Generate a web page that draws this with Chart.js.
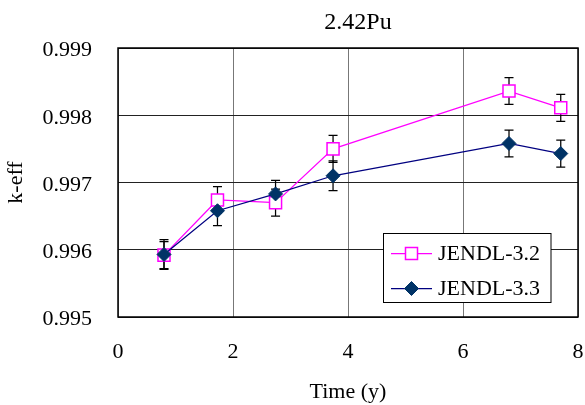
<!DOCTYPE html>
<html>
<head>
<meta charset="utf-8">
<script src="https://cdn.jsdelivr.net/npm/chart.js@4.4.1/dist/chart.umd.min.js"></script>
<style>
  html, body { margin: 0; padding: 0; background: #fff; }
  #wrap { width: 585px; height: 405px; }
</style>
</head>
<body>
<div id="wrap"><canvas id="c" width="585" height="405"></canvas></div>
<script>
// ---- data ----
const chartTitle = "2.42Pu";
const xTitle = "Time (y)";
const yTitle = "k-eff";
const seriesNames = ["JENDL-3.2", "JENDL-3.3"];
const times = [0.8, 1.73, 2.74, 3.74, 6.8, 7.7];
const jendl32 = [0.99592, 0.99674, 0.99670, 0.99750, 0.99836, 0.99811];
const jendl33 = [0.99593, 0.99658, 0.99683, 0.99710, 0.99758, 0.99743];
const err32 = [0.0002, 0.0002, 0.0002, 0.0002, 0.0002, 0.0002];
const err33 = [0.00022, 0.00022, 0.0002, 0.00022, 0.0002, 0.0002];
const xTicks = [0, 2, 4, 6, 8];
const yTicks = [0.995, 0.996, 0.997, 0.998, 0.999];

const FONT = "'Liberation Serif', 'Times New Roman', serif";

const errorBars = {
  id: 'errorBars',
  beforeDatasetsDraw(chart) {
    const ctx = chart.ctx;
    const ys = chart.scales.y;
    ctx.save();
    ctx.strokeStyle = '#000';
    ctx.lineWidth = 1.25;
    chart.data.datasets.forEach((ds, i) => {
      const meta = chart.getDatasetMeta(i);
      meta.data.forEach((pt, j) => {
        const v = ds.data[j].y, e = ds.errors[j];
        const yt = ys.getPixelForValue(v + e), yb = ys.getPixelForValue(v - e);
        const x = pt.x;
        ctx.beginPath();
        ctx.moveTo(x, yt); ctx.lineTo(x, yb);
        ctx.moveTo(x - 4.5, yt); ctx.lineTo(x + 4.5, yt);
        ctx.moveTo(x - 4.5, yb); ctx.lineTo(x + 4.5, yb);
        ctx.stroke();
      });
    });
    ctx.restore();
  }
};

const frameLegendTitle = {
  id: 'frameLegendTitle',
  afterDraw(chart) {
    const ctx = chart.ctx;
    const a = chart.chartArea;
    ctx.save();
    ctx.strokeStyle = '#000';
    ctx.lineWidth = 1.5;
    ctx.strokeRect(a.left, a.top, a.right - a.left, a.bottom - a.top);
    // title
    ctx.fillStyle = '#000';
    ctx.font = '24px ' + FONT;
    ctx.textAlign = 'center';
    ctx.textBaseline = 'middle';
    ctx.fillText(chartTitle, (a.left + a.right) / 2 + 10, 23);
    // legend box
    const bx = 383.5, by = 233.5, bw = 167.5, bh = 69;
    ctx.fillStyle = '#fff';
    ctx.fillRect(bx, by, bw, bh);
    ctx.lineWidth = 1;
    ctx.strokeStyle = '#000';
    ctx.strokeRect(bx, by, bw, bh);
    const rows = [253.5, 288.5];
    chart.data.datasets.forEach((ds, i) => {
      const y = rows[i];
      ctx.strokeStyle = ds.borderColor;
      ctx.lineWidth = 1.25;
      ctx.beginPath();
      ctx.moveTo(391, y); ctx.lineTo(432, y);
      ctx.stroke();
      ctx.fillStyle = ds.pointBackgroundColor;
      ctx.strokeStyle = ds.pointBorderColor;
      ctx.lineWidth = ds.pointBorderWidth;
      Chart.helpers.drawPoint(ctx, {pointStyle: ds.pointStyle, radius: ds.pointRadius, borderWidth: ds.pointBorderWidth, rotation: 0}, 411.5, y);
      ctx.fillStyle = '#000';
      ctx.font = '22px ' + FONT;
      ctx.textBaseline = 'middle';
      ctx.textAlign = 'left';
      ctx.fillText(ds.label, 438, y + 1);
    });
    ctx.restore();
  }
};

const toXY = (xs, ys) => xs.map((x, i) => ({x: x, y: ys[i]}));

new Chart(document.getElementById('c'), {
  type: 'line',
  data: {
    datasets: [
      {
        label: seriesNames[0],
        data: toXY(times, jendl32),
        errors: err32,
        borderColor: '#FF00FF',
        borderWidth: 1.25,
        pointStyle: 'rect',
        pointRadius: 8.5,
        pointBackgroundColor: '#FFFFFF',
        pointBorderColor: '#FF00FF',
        pointBorderWidth: 1.5,
        fill: false,
        tension: 0,
        order: 1
      },
      {
        label: seriesNames[1],
        data: toXY(times, jendl33),
        errors: err33,
        borderColor: '#000080',
        borderWidth: 1.25,
        pointStyle: 'rectRot',
        pointRadius: 7,
        pointBackgroundColor: '#003366',
        pointBorderColor: '#003366',
        pointBorderWidth: 1,
        fill: false,
        tension: 0,
        order: 0
      }
    ]
  },
  options: {
    responsive: false,
    animation: false,
    devicePixelRatio: 1,
    layout: { autoPadding: false, padding: { left: 0, right: 7, top: 48, bottom: 0 } },
    plugins: {
      legend: { display: false },
      tooltip: { enabled: false },
      title: { display: false }
    },
    scales: {
      x: {
        type: 'linear',
        min: xTicks[0],
        max: xTicks[xTicks.length - 1],
        afterBuildTicks(scale) { scale.ticks = xTicks.map(v => ({value: v})); },
        afterFit(scale) { scale.height = 88; },
        ticks: {
          color: '#000',
          font: { family: FONT, size: 22 },
          padding: 0,
          maxRotation: 0,
          callback: v => String(v)
        },
        grid: { color: '#777', lineWidth: 1, drawTicks: true, tickLength: 22, tickColor: 'rgba(0,0,0,0)' },
        border: { display: false },
        title: {
          display: true,
          text: xTitle,
          color: '#000',
          font: { family: FONT, size: 22, lineHeight: 1.2 },
          padding: { top: 0, bottom: 0 }
        }
      },
      y: {
        type: 'linear',
        min: yTicks[0],
        max: yTicks[yTicks.length - 1],
        afterBuildTicks(scale) { scale.ticks = yTicks.map(v => ({value: v})); },
        afterFit(scale) { scale.width = 118; },
        ticks: {
          color: '#000',
          font: { family: FONT, size: 22 },
          padding: 0,
          labelOffset: 2.5,
          callback: v => Number(v).toFixed(3)
        },
        grid: { color: '#222', lineWidth: 1, drawTicks: true, tickLength: 26, tickColor: 'rgba(0,0,0,0)' },
        border: { display: false },
        title: {
          display: true,
          text: yTitle,
          color: '#000',
          font: { family: FONT, size: 22, lineHeight: 1.2 },
          padding: { top: 3, bottom: 0 }
        }
      }
    }
  },
  plugins: [errorBars, frameLegendTitle]
});
</script>
</body>
</html>
